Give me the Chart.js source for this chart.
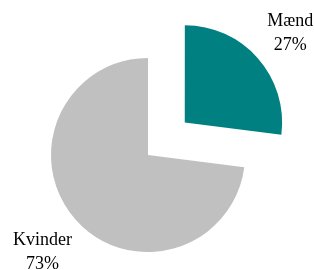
<!DOCTYPE html>
<html>
<head>
<meta charset="utf-8">
<script src="https://cdn.jsdelivr.net/npm/chart.js@4/dist/chart.umd.min.js"></script>
<style>
    html, body { margin: 0; padding: 0; background: #fff; }
    #wrap { width: 314px; height: 270px; }
</style>
</head>
<body>
<div id="wrap"><canvas id="pieChart"></canvas></div>
<script>
// ===== DATA =====
const categories = ['Mænd', 'Kvinder'];
const shares = [27, 73];
const percentLabels = ['27%', '73%'];
const sliceColors = ['#008080', '#c0c0c0'];
// Chart.js moves an arc by offset / 4 pixels
const sliceOffsets = [196, 0];

// Draws "name / pct" outside each slice, along the slice's middle angle
const outsideLabels = {
    id: 'outsideLabels',
    afterDatasetsDraw(chart) {
        const ctx = chart.ctx;
        const arcs = chart.getDatasetMeta(0).data;
        ctx.save();
        ctx.font = '18px "Liberation Serif", "Times New Roman", serif';
        ctx.fillStyle = '#000';
        ctx.textAlign = 'center';
        ctx.textBaseline = 'middle';
        arcs.forEach((arc, i) => {
            const p = arc.getProps(['x', 'y', 'startAngle', 'endAngle', 'outerRadius'], true);
            const mid = (p.startAngle + p.endAngle) / 2;
            const off = (arc.options.offset || 0) / 4;
            const dist = p.outerRadius * 1.45 + off;
            const cx = p.x + Math.cos(mid) * dist;
            const cy = p.y + Math.sin(mid) * dist;
            ctx.fillText(categories[i], cx, cy - 8);
            ctx.fillText(percentLabels[i], cx, cy + 16);
        });
        ctx.restore();
    }
};

new Chart(document.getElementById('pieChart'), {
    type: 'pie',
    data: {
        labels: categories,
        datasets: [{
            data: shares,
            backgroundColor: sliceColors,
            borderWidth: 0,
            offset: sliceOffsets
        }]
    },
    options: {
        responsive: true,
        maintainAspectRatio: false,
        animation: false,
        radius: 97,
        layout: { padding: { left: 0, right: 18, top: 40, bottom: 0 } },
        plugins: {
            legend: { display: false },
            tooltip: { enabled: false }
        }
    },
    plugins: [outsideLabels]
});
</script>
</body>
</html>
